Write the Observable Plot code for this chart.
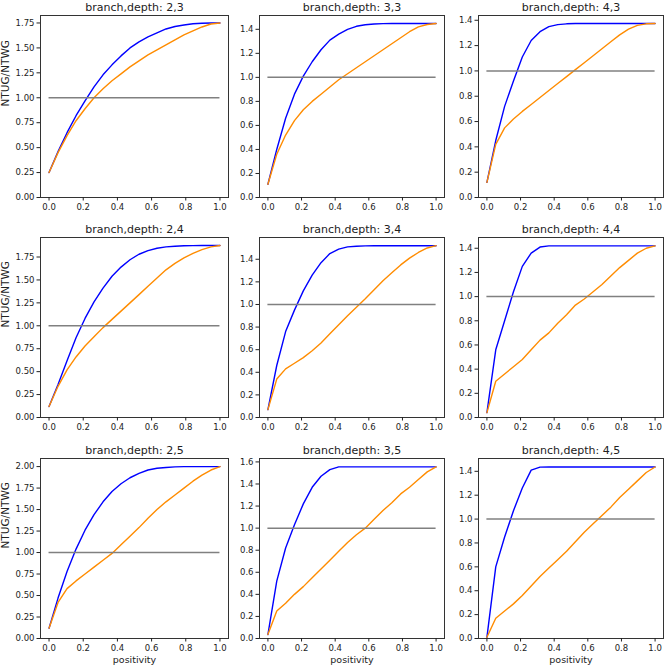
<!DOCTYPE html>
<html><head><meta charset="utf-8">
<script src="https://cdn.jsdelivr.net/npm/d3@7"></script>
<script src="https://cdn.jsdelivr.net/npm/@observablehq/plot@0.6"></script>
<style>
body{margin:0;background:#fff;}
#wrap{position:relative;width:667px;height:667px;overflow:hidden;background:#fff;}
#wrap svg{position:absolute;}
</style>
</head><body><div id="wrap"></div>
<script>
const positivity = [0, 0.0526, 0.1053, 0.1579, 0.2105, 0.2632, 0.3158, 0.3684, 0.4211, 0.4737, 0.5263, 0.5789, 0.6316, 0.6842, 0.7368, 0.7895, 0.8421, 0.8947, 0.9474, 1];
const branches = [2, 3, 4];
const depths = [3, 4, 5];

const blue_2_3   = [0.25, 0.46, 0.65, 0.82, 0.97, 1.11, 1.23, 1.33, 1.42, 1.50, 1.56, 1.61, 1.65, 1.69, 1.715, 1.73, 1.742, 1.748, 1.75, 1.75];
const orange_2_3 = [0.25, 0.45, 0.62, 0.77, 0.89, 1.00, 1.09, 1.17, 1.24, 1.31, 1.37, 1.43, 1.48, 1.53, 1.58, 1.63, 1.67, 1.71, 1.74, 1.75];
const blue_3_3   = [0.11, 0.40, 0.66, 0.86, 1.01, 1.13, 1.23, 1.31, 1.36, 1.40, 1.425, 1.438, 1.444, 1.447, 1.448, 1.448, 1.448, 1.448, 1.448, 1.448];
const orange_3_3 = [0.11, 0.36, 0.52, 0.64, 0.73, 0.80, 0.86, 0.92, 0.98, 1.03, 1.08, 1.13, 1.18, 1.23, 1.28, 1.33, 1.38, 1.42, 1.44, 1.448];
const blue_4_3   = [0.12, 0.45, 0.72, 0.92, 1.11, 1.24, 1.31, 1.35, 1.366, 1.372, 1.375, 1.375, 1.375, 1.375, 1.375, 1.375, 1.375, 1.375, 1.375, 1.375];
const orange_4_3 = [0.12, 0.42, 0.55, 0.62, 0.68, 0.735, 0.79, 0.845, 0.90, 0.955, 1.01, 1.065, 1.12, 1.175, 1.23, 1.285, 1.33, 1.36, 1.372, 1.375];
const blue_2_4   = [0.12, 0.36, 0.62, 0.87, 1.08, 1.26, 1.41, 1.54, 1.64, 1.72, 1.78, 1.82, 1.845, 1.86, 1.868, 1.872, 1.874, 1.875, 1.875, 1.875];
const orange_2_4 = [0.12, 0.34, 0.52, 0.66, 0.78, 0.88, 0.98, 1.07, 1.16, 1.25, 1.34, 1.43, 1.52, 1.61, 1.68, 1.74, 1.79, 1.83, 1.86, 1.875];
const blue_3_4   = [0.07, 0.46, 0.76, 0.95, 1.12, 1.26, 1.37, 1.45, 1.49, 1.51, 1.515, 1.518, 1.52, 1.52, 1.52, 1.52, 1.52, 1.52, 1.52, 1.52];
const orange_3_4 = [0.07, 0.34, 0.43, 0.48, 0.53, 0.59, 0.66, 0.74, 0.82, 0.90, 0.975, 1.05, 1.13, 1.21, 1.28, 1.35, 1.41, 1.46, 1.50, 1.52];
const blue_4_4   = [0.04, 0.56, 0.80, 1.04, 1.25, 1.36, 1.41, 1.42, 1.42, 1.42, 1.42, 1.42, 1.42, 1.42, 1.42, 1.42, 1.42, 1.42, 1.42, 1.42];
const orange_4_4 = [0.04, 0.30, 0.36, 0.42, 0.48, 0.56, 0.64, 0.70, 0.78, 0.85, 0.93, 0.98, 1.04, 1.10, 1.17, 1.24, 1.30, 1.36, 1.40, 1.42];
const blue_2_5   = [0.12, 0.47, 0.78, 1.04, 1.26, 1.44, 1.59, 1.71, 1.80, 1.87, 1.92, 1.96, 1.98, 1.99, 1.997, 2.0, 2.0, 2.0, 2.0, 2.0];
const orange_2_5 = [0.12, 0.42, 0.58, 0.67, 0.75, 0.83, 0.91, 0.99, 1.09, 1.19, 1.29, 1.40, 1.50, 1.59, 1.67, 1.75, 1.83, 1.90, 1.96, 2.0];
const blue_3_5   = [0.036, 0.52, 0.82, 1.03, 1.22, 1.37, 1.47, 1.53, 1.555, 1.555, 1.555, 1.555, 1.555, 1.555, 1.555, 1.555, 1.555, 1.555, 1.555, 1.555];
const orange_3_5 = [0.036, 0.25, 0.32, 0.40, 0.47, 0.55, 0.63, 0.71, 0.79, 0.87, 0.94, 1.00, 1.08, 1.16, 1.23, 1.31, 1.37, 1.44, 1.51, 1.555];
const blue_4_5   = [0.01, 0.60, 0.85, 1.07, 1.26, 1.41, 1.435, 1.436, 1.436, 1.436, 1.436, 1.436, 1.436, 1.436, 1.436, 1.436, 1.436, 1.436, 1.436, 1.436];
const orange_4_5 = [0.01, 0.17, 0.23, 0.29, 0.36, 0.44, 0.52, 0.59, 0.66, 0.73, 0.81, 0.89, 0.96, 1.03, 1.10, 1.18, 1.25, 1.32, 1.39, 1.436];

const xTicks = [0, 0.2, 0.4, 0.6, 0.8, 1.0];
const yTicksQuarter = [0, 0.25, 0.5, 0.75, 1.0, 1.25, 1.5, 1.75, 2.0];
const yTicksFifth = [0, 0.2, 0.4, 0.6, 0.8, 1.0, 1.2, 1.4, 1.6];
const refLevel = 1;
const xLabel = "positivity";
const yLabel = "NTUG/NTWG";

const series = {
  "2,3": [blue_2_3, orange_2_3], "3,3": [blue_3_3, orange_3_3], "4,3": [blue_4_3, orange_4_3],
  "2,4": [blue_2_4, orange_2_4], "3,4": [blue_3_4, orange_3_4], "4,4": [blue_4_4, orange_4_4],
  "2,5": [blue_2_5, orange_2_5], "3,5": [blue_3_5, orange_3_5], "4,5": [blue_4_5, orange_4_5]
};

// layout (frame edges in page pixels)
const colL = [40, 259, 478], colR = [228, 444, 663];
const rowT = [15, 237, 458], rowB = [197, 417, 638];
const mL = 46, mR = 4, mT = 22, mB = 32;

const wrap = document.getElementById("wrap");
depths.forEach((depth, ri) => {
  branches.forEach((branch, ci) => {
    const [blue, orange] = series[`${branch},${depth}`];
    const all = [...blue, ...orange, refLevel];
    const lo = d3.min(all), hi = d3.max(all);
    const top = hi + 0.05 * (hi - lo);
    const yt = (ci === 0 ? yTicksQuarter : yTicksFifth).filter(t => t <= top + 1e-9);
    const rows = positivity.map((x, i) => ({x, blue: blue[i], orange: orange[i]}));
    const fw = colR[ci] - colL[ci], fh = rowB[ri] - rowT[ri];
    const marks = [
      Plot.line(rows, {x: "x", y: "blue", stroke: "blue", strokeWidth: 1.4}),
      Plot.line(rows, {x: "x", y: "orange", stroke: "darkorange", strokeWidth: 1.4}),
      Plot.ruleY([refLevel], {x1: d3.min(positivity), x2: d3.max(positivity), stroke: "gray", strokeWidth: 1.5}),
      Plot.frame({stroke: "#333", strokeWidth: 1}),
      Plot.axisX({ticks: xTicks, tickFormat: d3.format(".1f"), tickSize: 3.5, tickPadding: 2.5, label: null}),
      Plot.axisY({ticks: yt, tickFormat: d3.format(ci === 0 ? ".2f" : ".1f"), tickSize: 3.5, tickPadding: 2.5, label: null}),
      Plot.text([`branch,depth: ${branch},${depth}`], {text: d => d, frameAnchor: "top", lineAnchor: "bottom", dy: -5, fontSize: 11, fill: "#222"})
    ];
    if (ci === 0) marks.push(Plot.text([yLabel], {text: d => d, frameAnchor: "left", dx: -35, rotate: -90, fontSize: 10.5, fill: "#222"}));
    if (ri === 2) marks.push(Plot.text([xLabel], {text: d => d, frameAnchor: "bottom", dy: 24, fontSize: 9.5, fill: "#222"}));
    const svg = Plot.plot({
      width: fw + mL + mR, height: fh + mT + mB,
      marginLeft: mL, marginRight: mR, marginTop: mT, marginBottom: mB,
      x: {domain: [-0.05, 1.05]},
      y: {domain: [0, top]},
      style: {fontFamily: "DejaVu Sans", fontSize: "8.5px", color: "#222", background: "transparent", overflow: "visible"},
      marks
    });
    svg.style.left = (colL[ci] - mL) + "px";
    svg.style.top = (rowT[ri] - mT) + "px";
    svg.style.maxWidth = "none";
    wrap.appendChild(svg);
  });
});
</script>
</body></html>
